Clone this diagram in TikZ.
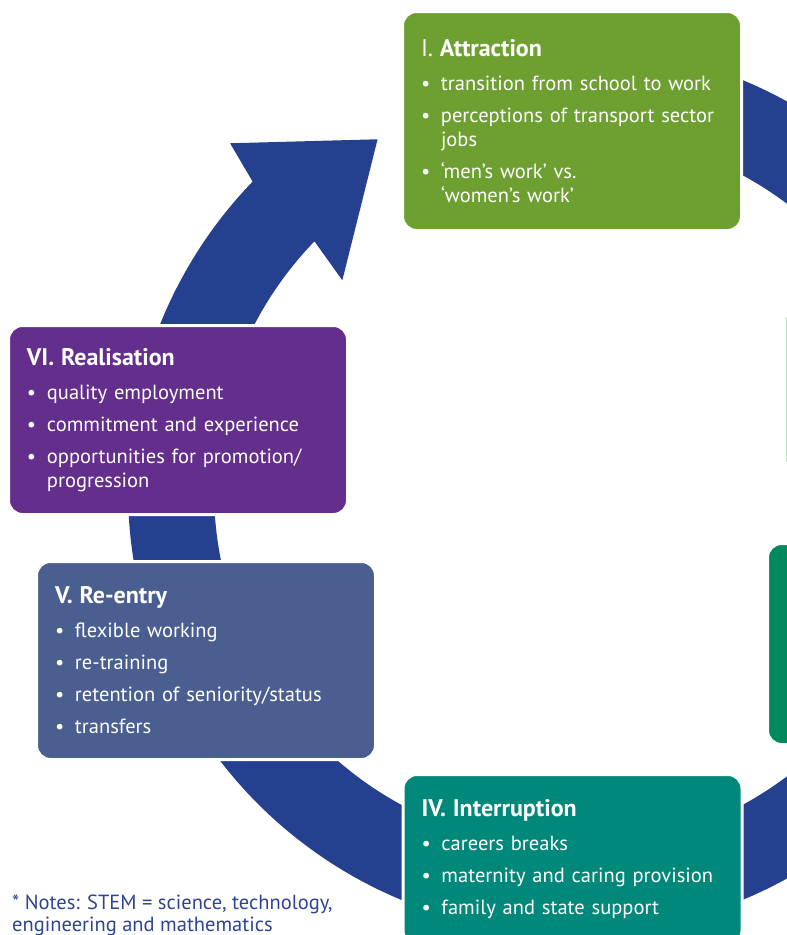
\documentclass[tikz,border=0pt]{standalone}
\usepackage{fontspec}
\setmainfont{PT Sans}
\usepackage{xcolor}
\usetikzlibrary{calc}

\definecolor{ringblue}{RGB}{37,64,143}
\definecolor{attrgreen}{RGB}{109,160,48}
\definecolor{twogreen}{RGB}{50,160,80}
\definecolor{threegreen}{RGB}{0,137,94}
\definecolor{intteal}{RGB}{0,137,123}
\definecolor{reslate}{RGB}{74,94,144}
\definecolor{realpurple}{RGB}{99,46,140}
\definecolor{notesblue}{RGB}{46,67,145}

\newcommand{\bul}{\makebox[20pt][l]{\textbullet}}
\newcommand{\ind}{\hspace*{20pt}}
\newcommand{\stagehead}[1]{{\fontsize{24}{24}\selectfont #1}}

\tikzset{
  stagebox/.style={rounded corners=14pt, draw=white, line width=3pt, text=white,
    text width=302pt, inner xsep=18.5pt, inner ysep=0pt, align=left,
    font=\fontsize{20.5}{24}\selectfont},
  notestext/.style={text=notesblue, align=left, inner sep=0pt,
    font=\fontsize{20.5}{22}\selectfont}
}

\begin{document}
\begin{tikzpicture}[x=1pt,y=-1pt]
\useasboundingbox (0,0) rectangle (787,935);
\clip (0,0) rectangle (787,935);
\coordinate (ctr) at (572,490);

\fill[ringblue] ($(ctr)+(-430:444)$) arc[start angle=-430, end angle=-136, radius=444]
  -- ($(ctr)+(-134.6:487)$) -- ($(ctr)+(-119:401)$) -- ($(ctr)+(-137.6:311)$)
  -- ($(ctr)+(-136:358)$) arc[start angle=-136, end angle=-430, radius=358] -- cycle;

\node[stagebox, fill=attrgreen, minimum height=219pt] (attraction) at (572,121) {%
\stagehead{I. \textbf{Attraction}}\\[10pt]
\bul transition from school to work\\[8pt]
\bul perceptions of transport sector\\
\ind jobs\\[8pt]
\bul ‘men’s work’ vs.\\
\ind ‘women’s work’};

\node[stagebox, fill=twogreen, minimum height=170pt] (stagetwo) at (954.6,389.5) {};
\node[stagebox, fill=threegreen, minimum height=201pt] (stagethree) at (937,644) {};

\node[stagebox, fill=intteal, minimum height=170pt] (interruption) at (572.5,859.5) {%
\stagehead{\textbf{IV. Interruption}}\\[10pt]
\bul careers breaks\\[8pt]
\bul maternity and caring provision\\[8pt]
\bul family and state support};

\node[stagebox, fill=reslate, minimum height=198pt] (reentry) at (206,660.5) {%
\stagehead{\textbf{V. Re-entry}}\\[10pt]
\bul flexible working\\[8pt]
\bul re-training\\[8pt]
\bul retention of seniority/status\\[8pt]
\bul transfers};

\node[stagebox, fill=realpurple, minimum height=189pt] (realisation) at (178,420) {%
\stagehead{\textbf{VI. Realisation}}\\[10pt]
\bul quality employment\\[8pt]
\bul commitment and experience\\[8pt]
\bul opportunities for promotion/\\
\ind progression};

\node[notestext, anchor=north west] (notes) at (12,895) {* Notes: STEM = science, technology,\\
engineering and mathematics};
\end{tikzpicture}
\end{document}
